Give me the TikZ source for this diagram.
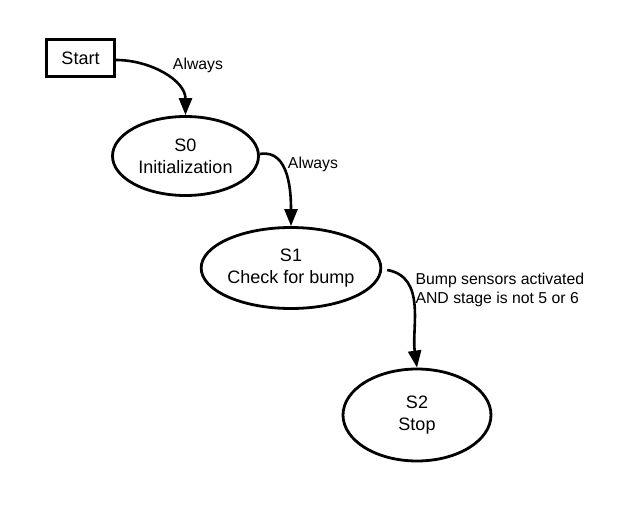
\documentclass[tikz,border=0pt]{standalone}
\usepackage{fontspec}
\setmainfont{Liberation Sans}
\usetikzlibrary{arrows.meta,shapes.geometric}
\begin{document}
\begin{tikzpicture}[x=1pt,y=-1pt,
    state/.style={ellipse,draw,line width=2.8pt,inner sep=0pt,align=center,font=\fontsize{18}{22}\selectfont},
    startbox/.style={rectangle,draw,line width=2.8pt,inner sep=0pt,font=\fontsize{18}{22}\selectfont},
    trans/.style={line width=2.6pt,-{Triangle[length=17pt,width=13pt]}},
    cond/.style={align=left,font=\fontsize{15.8}{19}\selectfont}]
                    \useasboundingbox (0,0) rectangle (624,524);
                    
                    \node [startbox,minimum width=68pt,minimum height=37pt] (Start) at (80.5,58) {Start\hspace{12pt}};
                    \node [state,minimum width=146pt,minimum height=79pt] (S0) at (185.5,156) {S0\\Initialization};
                    \node [state,minimum width=145pt,minimum height=81pt] (S1) at (291,268) {S1\\Check for bump};
                    \node [state,minimum width=148pt,minimum height=92pt] (S2) at (417,415) {S2\\Stop};
            
                    \draw[trans] ([yshift=-2pt]Start.east) to[out=0,in=90] (S0.north);
                    \draw[trans] ([yshift=2pt]S0.east) to[out=10,in=90] (S1.north);
                    \draw[trans] ([xshift=5pt,yshift=-2pt]S1.east) to[out=-10,in=98] (S2.north);
                    
                    \node [cond] (AlwaysA) at (198,65) {Always};
                    \node [cond] (AlwaysB) at (313,164) {Always};
                    \node [cond,anchor=west] (Bump) at (412,290) {Bump sensors activated\\AND stage is not 5 or 6};
            
                \end{tikzpicture}
\end{document}
